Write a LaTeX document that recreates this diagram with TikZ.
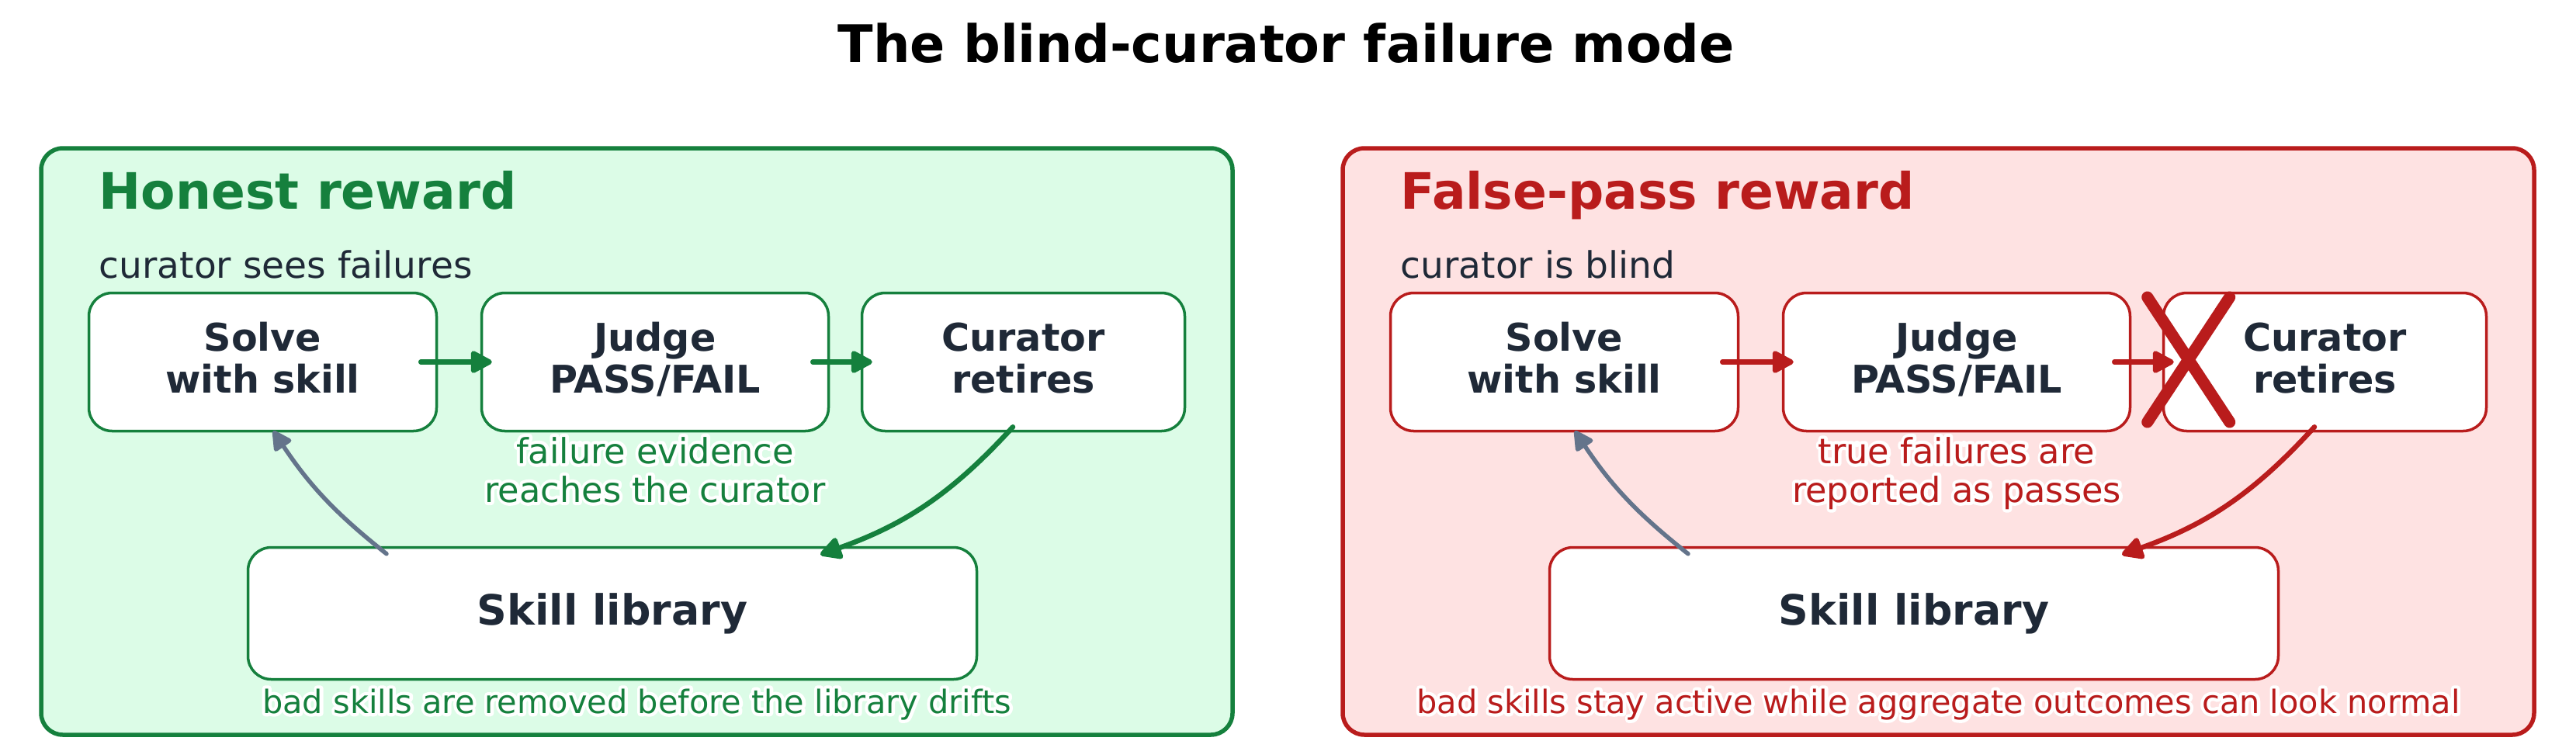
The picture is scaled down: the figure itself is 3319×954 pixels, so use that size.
\documentclass[tikz,border=0pt]{standalone}
\usepackage{fontspec}
\setmainfont{DejaVu Sans}
\usetikzlibrary{arrows.meta}
\definecolor{grn}{HTML}{15803D}
\definecolor{grnfill}{HTML}{DCFCE7}
\definecolor{rd}{HTML}{B91C1C}
\definecolor{rdfill}{HTML}{FEE2E2}
\definecolor{ink}{HTML}{1F2937}
\definecolor{slate}{HTML}{64748B}
\newcommand\fTitle{\bfseries\fontsize{19}{23}\selectfont}
\newcommand\fHead{\bfseries\fontsize{18.4}{22}\selectfont}
\newcommand\fSub{\fontsize{13.4}{16}\selectfont}
\newcommand\fBox{\bfseries\fontsize{14}{15.1}\selectfont}
\newcommand\fLib{\bfseries\fontsize{15.3}{18}\selectfont}
\newcommand\fNote{\fontsize{12.7}{14.2}\selectfont}
\newcommand\fFoot{\fontsize{11.8}{14}\selectfont}
% white outline behind a line of text: one stroked white copy, then the filled text
\newcommand\halo[1]{{\leavevmode
  \rlap{\special{pdf:code q 1 Tr 1 j 1 J 2.4 w 1 1 1 RG 1 1 1 rg}#1\special{pdf:code Q}}%
  #1}}
\tikzset{
  panelbox/.style={line width=0.55mm, rounded corners=2.8mm},
  stagebox/.style={draw=#1, fill=white, line width=0.35mm, rounded corners=3mm,
    minimum height=17.8mm, inner sep=0pt, align=center, text=ink, font=\fBox,
    text height=7.9mm, text depth=0pt},
  libbox/.style={draw=#1, fill=white, line width=0.35mm, rounded corners=3mm,
    minimum width=93.9mm, minimum height=17.0mm, inner sep=0pt, text=ink, font=\fLib,
    text height=3mm, text depth=0pt},
  headtext/.style={anchor=base west, font=\fHead, text=#1, inner sep=0pt},
  subtext/.style={anchor=base west, font=\fSub, text=ink, inner sep=0pt},
  notetext/.style={anchor=base, font=\fNote, text=#1, inner sep=0pt},
  foottext/.style={anchor=base, font=\fFoot, text=#1, inner sep=0pt},
  flowarrow/.style={draw=#1, line width=0.65mm, line cap=round,
    -{Triangle[round, length=3.1mm, width=3.1mm]}},
  backarrow/.style={draw=slate, line width=0.55mm, line cap=round,
    -{Triangle[round, length=2.8mm, width=2.8mm]}},
  xmark/.style={draw=rd, line width=1.5mm, line cap=round},
}
\begin{document}
\begin{tikzpicture}[x=0.1mm,y=-0.1mm]
\fill[white] (0,0) rectangle (3319,954);
\useasboundingbox (0,0) rectangle (3319,954);
\node[anchor=base, font=\fTitle, inner sep=0pt] (title) at (1657,80) {The blind-curator failure mode};

% ---------- left panel ----------
\draw[panelbox, draw=grn, fill=grnfill] (53,191) rectangle (1588,947);
\node[headtext=grn] (hL) at (127,269) {Honest reward};
\node[subtext] (subL) at (127,358) {curator sees failures};
\node[stagebox=grn, minimum width=44.8mm] (sL) at (338.5,466.5) {Solve\\with skill};
\node[stagebox=grn, minimum width=44.7mm] (jL) at (844,466.5) {Judge\\PASS/FAIL};
\node[stagebox=grn, minimum width=41.6mm] (cL) at (1318.5,466.5) {Curator\\retires};
\node[libbox=grn] (kL) at (789,790.5) {Skill library};
\draw[flowarrow=grn] ([xshift=-2.2mm]sL.east) -- ([xshift=1.5mm]jL.west);
\draw[flowarrow=grn] ([xshift=-2.2mm]jL.east) -- ([xshift=1.5mm]cL.west);
\draw[flowarrow=grn] ([shift={(-13.5,-7)}]cL.south) to[bend left=14] ([shift={(268,11)}]kL.north);
\draw[backarrow] ([shift={(-291,10)}]kL.north) to[bend left=9] ([shift={(13.5,-2)}]sL.south);
\node[notetext=grn] (a1L) at (844,597) {\halo{failure evidence}};
\node[notetext=grn] (a2L) at (844,647) {\halo{reaches the curator}};
\node[foottext=grn] (fL) at (820.5,919) {\halo{bad skills are removed before the library drifts}};

% ---------- right panel ----------
\begin{scope}[xshift=167.7mm]
\draw[panelbox, draw=rd, fill=rdfill] (53,191) rectangle (1588,947);
\node[headtext=rd] (hR) at (127,269) {False-pass reward};
\node[subtext] (subR) at (127,358) {curator is blind};
\node[stagebox=rd, minimum width=44.8mm] (sR) at (338.5,466.5) {Solve\\with skill};
\node[stagebox=rd, minimum width=44.7mm] (jR) at (844,466.5) {Judge\\PASS/FAIL};
\node[stagebox=rd, minimum width=41.6mm] (cR) at (1318.5,466.5) {Curator\\retires};
\node[libbox=rd] (kR) at (789,790.5) {Skill library};
\draw[flowarrow=rd] ([xshift=-2.2mm]sR.east) -- ([xshift=1.5mm]jR.west);
\draw[flowarrow=rd] ([xshift=-2.2mm]jR.east) -- ([xshift=1.5mm]cR.west);
\draw[flowarrow=rd] ([shift={(-13.5,-7)}]cR.south) to[bend left=14] ([shift={(268,11)}]kR.north);
\draw[backarrow] ([shift={(-291,10)}]kR.north) to[bend left=9] ([shift={(13.5,-2)}]sR.south);
\draw[xmark] ([shift={(-19,-83.5)}]cR.west) -- ([shift={(87,77.5)}]cR.west);
\draw[xmark] ([shift={(87,-83.5)}]cR.west) -- ([shift={(-19,77.5)}]cR.west);
\node[notetext=rd] (a1R) at (844,597) {\halo{true failures are}};
\node[notetext=rd] (a2R) at (844,647) {\halo{reported as passes}};
\node[foottext=rd] (fR) at (820.5,919) {\halo{bad skills stay active while aggregate outcomes can look normal}};
\end{scope}
\end{tikzpicture}
\end{document}
